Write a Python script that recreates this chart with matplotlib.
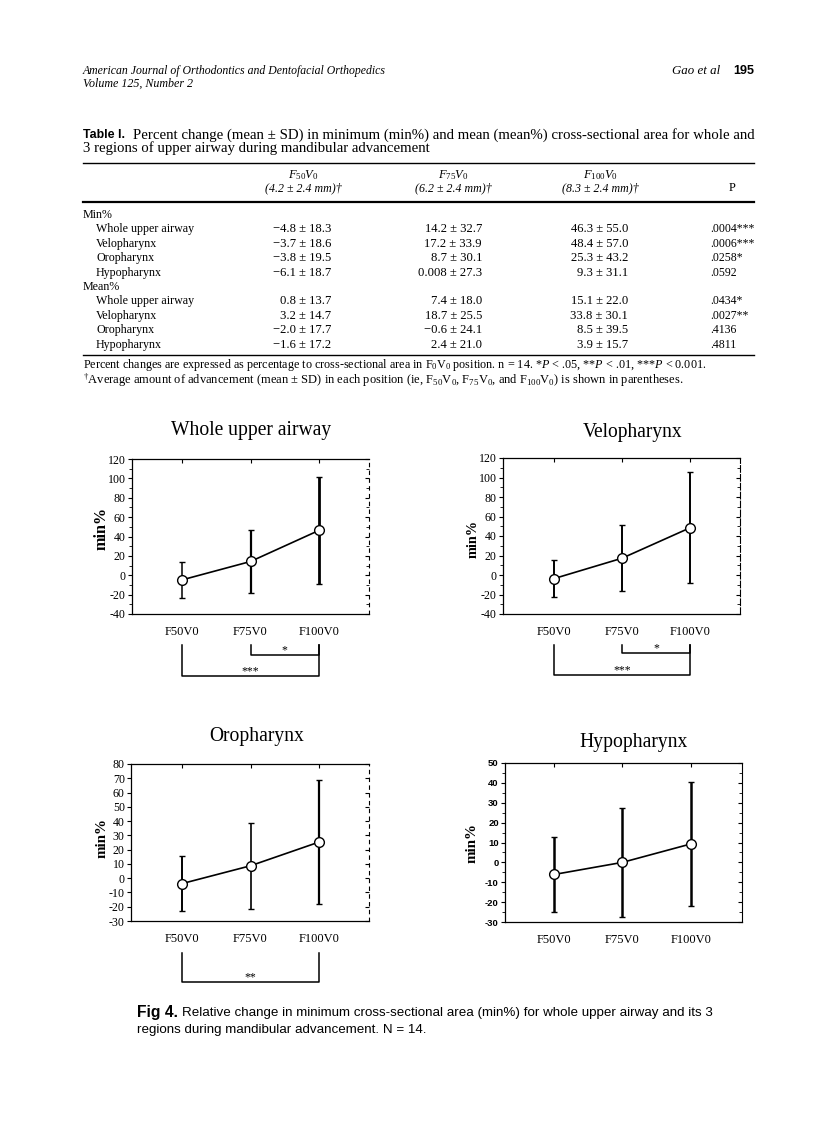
import matplotlib
matplotlib.use("Agg")
import matplotlib.pyplot as plt
from matplotlib.transforms import blended_transform_factory
from matplotlib.lines import Line2D
from matplotlib.ticker import MultipleLocator

plt.rcParams['mathtext.fontset'] = 'custom'
plt.rcParams['mathtext.rm'] = 'Liberation Serif'
plt.rcParams['mathtext.it'] = 'Liberation Serif:italic'
plt.rcParams['mathtext.bf'] = 'Liberation Serif:bold'
plt.rcParams['axes.unicode_minus'] = False

# ---------------- data ----------------
regions = ["Whole upper airway", "Velopharynx", "Oropharynx", "Hypopharynx"]
positions = ["F50V0", "F75V0", "F100V0"]
pos_sub = ["50", "75", "100"]
advance_mean = [4.2, 6.2, 8.3]
advance_sd = [2.4, 2.4, 2.4]

min_mean = [[-4.8, 14.2, 46.3], [-3.7, 17.2, 48.4], [-3.8, 8.7, 25.3], [-6.1, 0.008, 9.3]]
min_sd = [[18.3, 32.7, 55.0], [18.6, 33.9, 57.0], [19.5, 30.1, 43.2], [18.7, 27.3, 31.1]]
min_p = [".0004***", ".0006***", ".0258*", ".0592"]
mean_mean = [[0.8, 7.4, 15.1], [3.2, 18.7, 33.8], [-2.0, -0.6, 8.5], [-1.6, 2.4, 3.9]]
mean_sd = [[13.7, 18.0, 22.0], [14.7, 25.5, 30.1], [17.7, 24.1, 39.5], [17.2, 21.0, 15.7]]
mean_p = [".0434*", ".0027**", ".4136", ".4811"]

y_ranges = [(-40, 120, 20), (-40, 120, 20), (-30, 80, 10), (-30, 50, 10)]
significance = [[(2, 3, "*"), (1, 3, "***")],
                [(2, 3, "*"), (1, 3, "***")],
                [(1, 3, "**")],
                []]

# ---------------- figure ----------------
W, H = 838, 1122
fig = plt.figure(figsize=(W / 100, H / 100), dpi=100)
fig.patch.set_facecolor("white")
renderer = fig.canvas.get_renderer()

SERIF = "Liberation Serif"
SANS = "Liberation Sans"


def put(px, py, s, width=None, size=9, family=SERIF, ha="left", va="center", **kw):
    t = fig.text(px / W, 1 - py / H, s, fontsize=size, family=family, ha=ha, va=va, **kw)
    if width:
        bb = t.get_window_extent(renderer)
        t.set_fontsize(size * width / bb.width)
    return t


def fit_size(s, width, family=SERIF, **kw):
    probe = fig.text(0, 0, s, fontsize=10, family=family, **kw)
    w = probe.get_window_extent(renderer).width
    probe.remove()
    return 10 * width / w


def hline(x0, x1, py, lw=1.0):
    fig.add_artist(Line2D([x0 / W, x1 / W], [1 - py / H, 1 - py / H], color="black", lw=lw))


def fmt(v):
    s = f"{v:.1f}" if abs(v) >= 0.05 else f"{v:g}"
    return s.replace("-", "\u2212")


# header
put(83, 71, "American Journal of Orthodontics and Dentofacial Orthopedics", width=301, style="italic")
put(83, 84, "Volume 125, Number 2", width=110, style="italic")
put(672, 71, "Gao et al", width=48, style="italic")
put(733, 71, "195", width=21, family=SANS, weight="bold")

# table caption
put(83, 135, "Table I.", width=42, family=SANS, weight="bold")
put(133, 135, "Percent change (mean \u00b1 SD) in minimum (min%) and mean (mean%) cross-sectional area for whole and",
    width=621)
put(83, 148, "3 regions of upper airway during mandibular advancement", width=347)

# table rules
hline(83, 754, 163, 1.0)
hline(83, 754, 202, 1.6)
hline(83, 754, 355, 1.0)

# column headers
col_centers = [303, 453, 600]
col_right = [331, 482, 628]
for c, sub, am, asd in zip(col_centers, pos_sub, advance_mean, advance_sd):
    put(c, 175, r"$F_{%s}V_{0}$" % sub, size=9, ha="center")
    put(c, 188, f"({am} \u00b1 {asd} mm)\u2020", size=8.6, ha="center", style="italic")
put(732, 188, "P", size=9, ha="center")

# table body
vsize = fit_size("\u22124.8 \u00b1 18.3", 58)
lsize = vsize * 0.95
psize = fit_size(".0004***", 44)
row_y0 = 215
dy = 14.4
r = 0
for group, means, sds, ps in [("Min%", min_mean, min_sd, min_p), ("Mean%", mean_mean, mean_sd, mean_p)]:
    put(83, row_y0 + r * dy, group, size=lsize)
    r += 1
    for name, m, s, p in zip(regions, means, sds, ps):
        y = row_y0 + r * dy
        put(96, y, name, size=lsize)
        for cr, mv, sv in zip(col_right, m, s):
            put(cr, y, f"{fmt(mv)} \u00b1 {fmt(sv)}", size=vsize, ha="right")
        put(710, y, p, size=psize)
        r += 1

put(83, 365, r"Percent changes are expressed as percentage to cross-sectional area in $\mathrm{F_0V_0}$ position. n = 14. *$P$ < .05, **$P$ < .01, ***$P$ < 0.001.",
    width=624)
put(83, 380, r"$^{\dagger}$Average amount of advancement (mean $\pm$ SD) in each position (ie, $\mathrm{F_{50}V_0}$, $\mathrm{F_{75}V_0}$, and $\mathrm{F_{100}V_0}$) is shown in parentheses.",
    width=603)

# ---------------- charts ----------------
layouts = [
    dict(box=(132, 369, 459, 614), xlim=(0.27, 3.73), title=(251, 430, 160), ylab=(102, 528, 43),
         br_top=645, br_levels=[655, 676], rstyle=(0, (3, 4)), tickfont=SERIF, ticksize=8.6, minor=10,
         ebw=[1.1, 1.6, 2.0]),
    dict(box=(503, 740, 458, 614), xlim=(0.25, 3.735), title=(633, 432, 100), ylab=(473, 539, 38),
         br_top=645, br_levels=[653, 675], rstyle=(0, (6, 2)), tickfont=SERIF, ticksize=8.6, minor=10,
         ebw=[1.4, 1.4, 1.4]),
    dict(box=(131, 369, 764, 921), xlim=(0.255, 3.73), title=(257, 737, 95), ylab=(102, 838, 40),
         br_top=953, br_levels=[982], rstyle=(0, (3, 4)), tickfont=SERIF, ticksize=8.6, minor=None,
         ebw=[1.4, 1.2, 1.6]),
    dict(box=(505, 742, 763, 922), xlim=(0.285, 3.745), title=(634, 742, 108), ylab=(472, 843, 40),
         br_top=None, br_levels=[], rstyle="solid", tickfont=SANS, ticksize=6.8, minor=5,
         ebw=[1.8, 1.8, 1.8]),
]

xs = [1, 2, 3]
for i, lay in enumerate(layouts):
    l, rgt, top, bot = lay["box"]
    ax = fig.add_axes([l / W, 1 - bot / H, (rgt - l) / W, (bot - top) / H])
    ax.set_facecolor("none")
    ax.plot(xs, min_mean[i], color="black", lw=1.2, zorder=2)
    for x, m, s, w in zip(xs, min_mean[i], min_sd[i], lay["ebw"]):
        ax.errorbar([x], [m], yerr=[s], fmt="none", ecolor="black", elinewidth=w,
                    capsize=2.5, capthick=1.0, zorder=1)
    ax.plot(xs, min_mean[i], "o", ms=7, mfc="white", mec="black", mew=1.0, zorder=3, ls="none")
    ymin, ymax, step = y_ranges[i]
    ax.set_ylim(ymin, ymax)
    ax.set_xlim(*lay["xlim"])
    ax.yaxis.set_major_locator(MultipleLocator(step))
    if lay["minor"]:
        ax.yaxis.set_minor_locator(MultipleLocator(lay["minor"]))
    ax.set_xticks(xs)
    ax.set_xticklabels(positions, family=SERIF, fontsize=9)
    ax.tick_params(axis="x", which="both", bottom=False, top=True, direction="in", length=3, pad=8.5)
    ax.tick_params(axis="y", which="major", left=True, right=True, length=3, width=0.8, pad=1.5,
                   labelsize=lay["ticksize"])
    ax.tick_params(axis="y", which="minor", left=True, right=True, length=2, width=0.6)
    ax.tick_params(axis="y", which="both", direction="out")
    for tl in ax.get_yticklabels():
        tl.set_family(lay["tickfont"])
        if lay["tickfont"] == SANS:
            tl.set_weight("bold")
    for tk in ax.yaxis.get_major_ticks() + ax.yaxis.get_minor_ticks():
        tk.tick2line.set_marker(matplotlib.markers.TICKLEFT)
    for sp in ["left", "bottom", "top"]:
        ax.spines[sp].set_linewidth(0.9)
    ax.spines["right"].set_linewidth(0.8)
    ax.spines["right"].set_linestyle(lay["rstyle"])

    tcx, tcy, tw = lay["title"]
    put(tcx, tcy, regions[i], width=tw, ha="center")
    lcx, lcy, ll = lay["ylab"]
    tt = fig.text(lcx / W, 1 - lcy / H, "min%", family=SERIF, fontsize=12, rotation=90,
                  ha="center", va="center", weight="bold")
    bb = tt.get_window_extent(renderer)
    tt.set_fontsize(12 * ll / bb.height)

    tr = blended_transform_factory(ax.transData, fig.transFigure)
    for (a, b, lab), lv in zip(significance[i], lay["br_levels"]):
        y0 = 1 - lay["br_top"] / H
        y1 = 1 - lv / H
        ax.plot([a, a, b, b], [y0, y1, y1, y0], color="black", lw=1.1, transform=tr, clip_on=False)
        ax.text((a + b) / 2, 1 - (lv - 4.5) / H, lab, transform=tr, ha="center", va="center",
                family=SERIF, fontsize=8.5, clip_on=False)

# figure caption
put(137, 1013, "Fig 4.", width=41, family=SANS, weight="bold")
put(182, 1013, "Relative change in minimum cross-sectional area (min%) for whole upper airway and its 3",
    width=533, family=SANS)
put(137, 1030, "regions during mandibular advancement. N = 14.", width=291, family=SANS)

fig.savefig("out.png", dpi=100, facecolor="white")
